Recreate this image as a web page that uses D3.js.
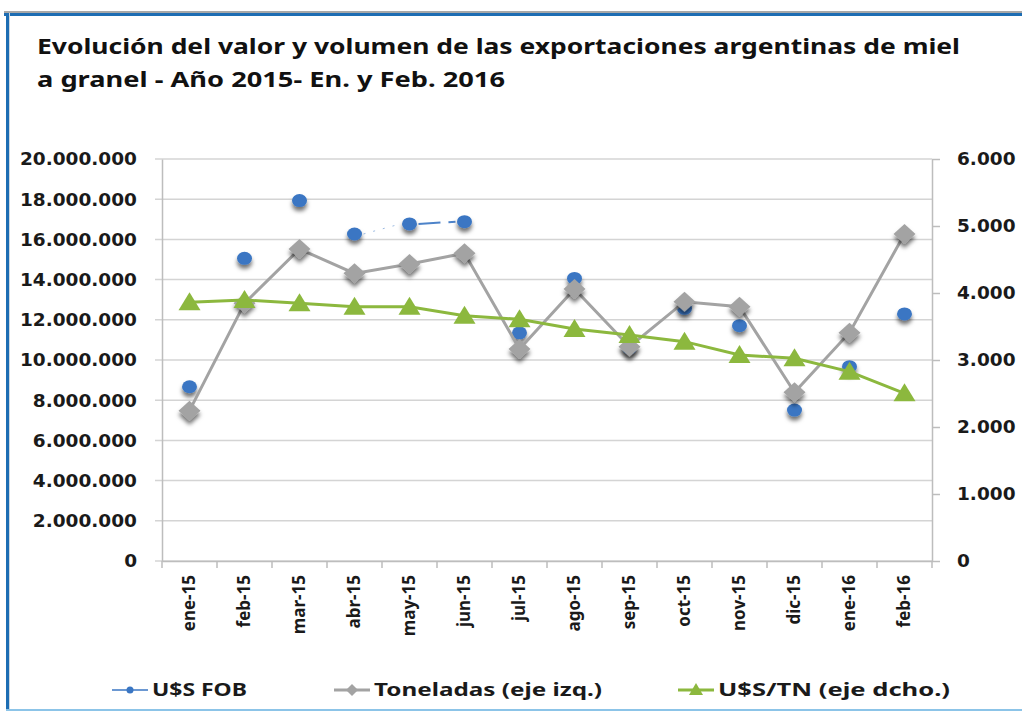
<!DOCTYPE html>
<html>
<head>
<meta charset="utf-8">
<script src="https://cdn.jsdelivr.net/npm/d3@7"></script>
<style>
    body { margin: 0; background: #fff; }
    svg { display: block; }
</style>
</head>
<body>
<svg id="chart" width="1022" height="711"></svg>
<script>
// months on the x axis
const months = ['ene-15', 'feb-15', 'mar-15', 'abr-15', 'may-15', 'jun-15', 'jul-15',
    'ago-15', 'sep-15', 'oct-15', 'nov-15', 'dic-15', 'ene-16', 'feb-16'];

// U$S FOB (left axis)
const fob = [8670000, 15060000, 17930000, 16270000, 16770000, 16880000, 11350000,
    14060000, 10600000, 12570000, 11710000, 7510000, 9670000, 12290000];

// Toneladas, drawn on the left axis scale
const toneladas = [7480000, 12820000, 15520000, 14310000, 14780000, 15310000, 10550000,
    13530000, 10660000, 12900000, 12650000, 8390000, 11360000, 16270000];

// U$S/TN (right axis)
const precio = [3861, 3896, 3846, 3796, 3796, 3662, 3607,
    3463, 3373, 3274, 3075, 3025, 2826, 2503];

// the few FOB segments that are joined in the original
const fobLinks = [[3, 4, 'dot'], [4, 5, 'dash']];

const leftTicks = [0, 2e6, 4e6, 6e6, 8e6, 10e6, 12e6, 14e6, 16e6, 18e6, 20e6];
const rightTicks = [0, 1000, 2000, 3000, 4000, 5000, 6000];

const legendItems = ['U$S FOB', 'Toneladas (eje izq.)', 'U$S/TN  (eje dcho.)'];
const titleLines = ['Evolución del valor y volumen de las exportaciones argentinas de miel',
    'a granel - Año 2015- En. y Feb. 2016'];

const blue = '#3a76c3', gray = '#a3a3a3', green = '#8cb83e';

const svg = d3.select('#chart');
const plotLeft = 162, plotRight = 932, plotTop = 159, plotBottom = 561;

const es = d3.formatLocale({ decimal: ',', thousands: '.', grouping: [3], currency: ['$', ''] });
const fmt = es.format(',.0f');

const x = d3.scaleBand().domain(months).range([plotLeft, plotRight]);
const cx = d => x(d) + x.bandwidth() / 2;
const yL = d3.scaleLinear().domain([0, 20e6]).range([plotBottom, plotTop]);
const yR = d3.scaleLinear().domain([0, 6000]).range([plotBottom, plotTop]);

// drop shadow like the office charts
const defs = svg.append('defs');
const f = defs.append('filter').attr('id', 'shadow')
    .attr('x', '-50%').attr('y', '-50%').attr('width', '200%').attr('height', '250%');
f.append('feDropShadow').attr('dx', 0).attr('dy', 4).attr('stdDeviation', 2)
    .attr('flood-color', '#000').attr('flood-opacity', 0.55);

// frame
svg.append('rect').attr('x', 4).attr('y', 11).attr('width', 1030).attr('height', 2).attr('fill', '#a8a8a8');
svg.append('rect').attr('x', 4).attr('y', 13).attr('width', 1030).attr('height', 3).attr('fill', '#1d6db3');
svg.append('rect').attr('x', 6).attr('y', 13).attr('width', 3).attr('height', 700).attr('fill', '#1d6db3');
svg.append('rect').attr('x', 9).attr('y', 13).attr('width', 1).attr('height', 700).attr('fill', '#cfd8e0');
svg.append('rect').attr('x', 6).attr('y', 709).attr('width', 1020).attr('height', 2).attr('fill', '#8cc4e8');

// title
svg.append('g').selectAll('text').data(titleLines).join('text')
    .attr('x', 37)
    .attr('y', (d, i) => 54 + i * 33)
    .attr('textLength', (d, i) => i === 0 ? 923 : 468)
    .attr('lengthAdjust', 'spacingAndGlyphs')
    .style('font-family', '"Noto Sans", sans-serif')
    .style('font-weight', 'bold')
    .style('font-size', '22px')
    .attr('fill', '#111')
    .text(d => d);

// grid lines
svg.append('g').selectAll('line').data(leftTicks).join('line')
    .attr('x1', plotLeft - 7).attr('x2', plotRight)
    .attr('y1', d => yL(d)).attr('y2', d => yL(d))
    .attr('stroke', '#d4d4d4').attr('stroke-width', 1.5);

// left axis
const yAxisL = svg.append('g').attr('transform', `translate(${plotLeft},0)`)
    .call(d3.axisLeft(yL).tickValues(leftTicks).tickFormat(d => d === 0 ? '0' : fmt(d)).tickSize(0).tickPadding(25));
yAxisL.select('.domain').attr('stroke', '#bdbdbd').attr('stroke-width', 1.5);
yAxisL.selectAll('text')
    .style('font-family', '"DejaVu Sans", sans-serif').style('font-weight', 'bold')
    .style('font-size', '18.5px').attr('fill', '#1a1a1a');

// right axis
const yAxisR = svg.append('g').attr('transform', `translate(${plotRight},0)`)
    .call(d3.axisRight(yR).tickValues(rightTicks).tickFormat(d => d === 0 ? '0' : fmt(d)).tickSize(8).tickSizeOuter(0).tickPadding(17));
yAxisR.select('.domain').attr('stroke', '#bdbdbd').attr('stroke-width', 1.5);
yAxisR.selectAll('.tick line').attr('stroke', '#bdbdbd').attr('stroke-width', 1.5);
yAxisR.selectAll('text')
    .style('font-family', '"DejaVu Sans", sans-serif').style('font-weight', 'bold')
    .style('font-size', '18.5px').attr('fill', '#1a1a1a');

// x axis
const xAxis = svg.append('g').attr('transform', `translate(0,${plotBottom})`)
    .call(d3.axisBottom(x).tickSize(0).tickPadding(0));
xAxis.select('.domain').attr('stroke', '#bdbdbd').attr('stroke-width', 1.5);
xAxis.selectAll('.tick text')
    .attr('transform', 'rotate(-90)')
    .attr('text-anchor', 'end')
    .attr('x', -14).attr('y', 0).attr('dy', '0.35em')
    .style('font-family', '"Noto Sans", sans-serif').style('font-weight', 'bold')
    .style('font-size', '17px').attr('fill', '#1a1a1a');
// tick marks at the band edges
svg.append('g').selectAll('line').data(months.concat(['end'])).join('line')
    .attr('x1', (d, i) => plotLeft + i * x.bandwidth()).attr('x2', (d, i) => plotLeft + i * x.bandwidth())
    .attr('y1', plotBottom).attr('y2', plotBottom + 7)
    .attr('stroke', '#bdbdbd').attr('stroke-width', 1.5);

// U$S FOB
const gFob = svg.append('g');
gFob.selectAll('line').data(fobLinks).join('line')
    .attr('x1', d => cx(months[d[0]]) + 9).attr('x2', d => cx(months[d[1]]) - 9)
    .attr('y1', d => yL(fob[d[0]])).attr('y2', d => yL(fob[d[1]]))
    .attr('stroke', blue)
    .attr('stroke-width', d => d[2] === 'dot' ? 1 : 2)
    .attr('stroke-opacity', d => d[2] === 'dot' ? 0.5 : 0.9)
    .attr('stroke-dasharray', d => d[2] === 'dot' ? '2,8' : '22,8');
gFob.selectAll('ellipse').data(fob).join('ellipse')
    .attr('cx', (d, i) => cx(months[i])).attr('cy', d => yL(d))
    .attr('rx', 7.5).attr('ry', 6.5)
    .attr('fill', blue)
    .attr('filter', 'url(#shadow)');

// Toneladas
const gTon = svg.append('g');
gTon.append('path').datum(toneladas)
    .attr('d', d3.line().x((d, i) => cx(months[i])).y(d => yL(d)))
    .attr('fill', 'none').attr('stroke', gray).attr('stroke-width', 3);
gTon.selectAll('path.m').data(toneladas).join('path').attr('class', 'm')
    .attr('transform', (d, i) => `translate(${cx(months[i])},${yL(d)})`)
    .attr('d', 'M0,-10L11,0L0,10L-11,0Z')
    .attr('fill', gray)
    .attr('filter', 'url(#shadow)');

// U$S/TN
const gPre = svg.append('g');
gPre.append('path').datum(precio)
    .attr('d', d3.line().x((d, i) => cx(months[i])).y(d => yR(d)))
    .attr('fill', 'none').attr('stroke', green).attr('stroke-width', 3);
gPre.selectAll('path.m').data(precio).join('path').attr('class', 'm')
    .attr('transform', (d, i) => `translate(${cx(months[i])},${yR(d)})`)
    .attr('d', 'M0,-10L11,8L-11,8Z')
    .attr('fill', green);

// legend
const legX = [112, 334, 678];
const legW = [95, 228, 232];
const leg = svg.append('g').selectAll('g').data(legendItems).join('g')
    .attr('transform', (d, i) => `translate(${legX[i]},690)`);
leg.append('line').attr('x1', 0).attr('x2', 36).attr('y1', 0).attr('y2', 0)
    .attr('stroke', (d, i) => [blue, gray, green][i]).attr('stroke-width', (d, i) => i === 0 ? 1.5 : 3);
leg.each(function(d, i) {
    const g = d3.select(this);
    if (i === 0) g.append('circle').attr('cx', 18).attr('r', 3.5).attr('fill', blue);
    if (i === 1) g.append('path').attr('d', 'M18,-6L24,0L18,6L12,0Z').attr('fill', gray);
    if (i === 2) g.append('path').attr('d', 'M18,-7L25,5L11,5Z').attr('fill', green);
});
leg.append('text')
    .attr('x', 40).attr('y', 0).attr('dy', '0.35em')
    .attr('textLength', (d, i) => legW[i])
    .attr('lengthAdjust', 'spacingAndGlyphs')
    .style('font-family', '"Noto Sans", sans-serif').style('font-weight', 'bold')
    .style('font-size', '18px').attr('fill', '#1a1a1a')
    .text(d => d);
</script>
</body>
</html>
